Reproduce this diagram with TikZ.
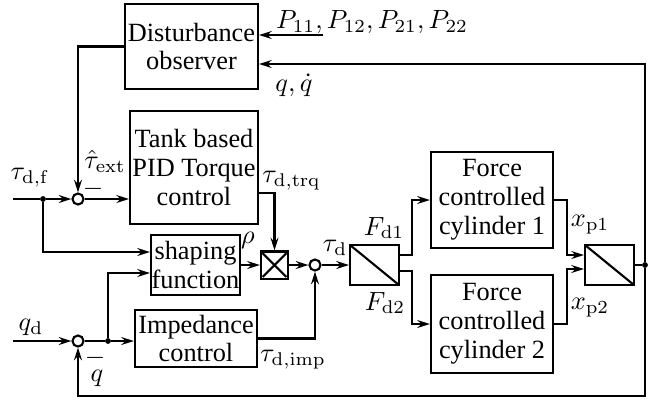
\documentclass[tikz,border=0pt]{standalone}
\usepackage[no-math]{fontspec}
\setmainfont{Liberation Serif}
\usetikzlibrary{arrows.meta,calc}

\tikzset{
  blk/.style={draw, thick, align=center, inner sep=0pt, font=\fontsize{10}{11}\selectfont},
  sumnode/.style={draw, thick, circle, fill=white, inner sep=0pt, minimum size=4.2pt},
  junc/.style={circle, fill, inner sep=0pt, minimum size=2.2pt},
  swbox/.style={draw, thick, inner sep=0pt, minimum width=18.6pt, minimum height=15.2pt,
    path picture={\draw[thick] (path picture bounding box.north west) -- (path picture bounding box.south east);}},
  sig/.style={thick, -{Stealth[length=4.8pt, width=3pt, inset=1.6pt]}},
  lin/.style={thick},
  lbl/.style={inner sep=0.5pt}
}

\begin{document}
\begin{tikzpicture}[x=0.38pt, y=-0.38pt]

  \useasboundingbox (0,0) rectangle (650,399);

  % Input and feedback points
  \coordinate (tfin) at (13,199);
  \coordinate (qdin) at (13,341);
  \coordinate (pin) at (323,35);
  \coordinate (fbb) at (645,396);

  % Blocks
  \node[blk, minimum width=50.5pt, minimum height=32.3pt] (obs) at (191.5,46.5) {Disturbance\\observer};
  \node[blk, minimum width=48.6pt, minimum height=42.9pt] (tank) at (194,167.5) {Tank based\\PID Torque\\control};
  \node[blk, minimum width=33.8pt, minimum height=22.8pt] (shape) at (195.5,265) {shaping\\function};
  \node[blk, minimum width=46.4pt, minimum height=21.7pt] (imp) at (196,338.5) {Impedance\\control};
  \node[blk, minimum width=46.4pt, minimum height=36.5pt] (cyl1) at (492,200) {Force\\controlled\\cylinder 1};
  \node[blk, minimum width=46.4pt, minimum height=37.2pt] (cyl2) at (492,324) {Force\\controlled\\cylinder 2};
  \node[draw, thick, minimum size=10.3pt, inner sep=0pt] (mult) at (274.5,265) {};
  \draw[thick] ([shift={(1pt,-1pt)}]mult.north west) -- ([shift={(-1pt,1pt)}]mult.south east);
  \draw[thick] ([shift={(1pt,1pt)}]mult.south west) -- ([shift={(-1pt,-1pt)}]mult.north east);
  \node[swbox] (demux) at (374.5,265) {};
  \node[swbox] (mux) at (609.5,265) {};

  % Sums and junctions
  \node[sumnode] (sum1) at (78,199) {};
  \node[sumnode] (sum2) at (315,265) {};
  \node[sumnode] (sum3) at (78,341) {};
  \node[junc] (d1) at (43,199) {};
  \node[junc] (d2) at (108,341) {};
  \node[junc] (d3) at (645,265) {};

  % Signals
  \draw[lin] (tfin) -- (d1);
  \draw[sig] (d1) -- (sum1);
  \draw[sig] (sum1) -- (sum1 -| tank.west);
  \draw[sig] (obs.west) -| (sum1);
  \draw[sig] (d1) |- ($(shape.west)+(0,-13)$);
  \draw[sig] (d2) |- ($(shape.west)+(0,8)$);
  \draw[sig] (shape) -- (mult);
  \draw[sig] ($(tank.east)+(0,25.5)$) -| (mult.north);
  \draw[sig] (mult) -- (sum2);
  \draw[sig] (qdin) -- (sum3);
  \draw[lin] (sum3) -- (d2);
  \draw[sig] (d2) -- (d2 -| imp.west);
  \draw[sig] (imp.east) -| (sum2);
  \draw[sig] (sum2) -- (demux);
  \draw[sig] ($(demux.east)+(0,-10)$) -- ++(12,0) |- (cyl1.west);
  \draw[sig] ($(demux.east)+(0,6)$) -- ++(12,0) |- (cyl2.west);
  \draw[sig] (cyl1.east) -- ++(13,0) |- ($(mux.west)+(0,-10)$);
  \draw[sig] (cyl2.east) -- ++(13,0) |- ($(mux.west)+(0,4)$);
  \draw[lin] (mux) -- (d3);
  \draw[sig] (d3) |- ($(obs.east)+(0,17.5)$);
  \draw[sig] (d3) -- (fbb) -| (sum3);
  \draw[sig] (pin) -- (pin -| obs.east);

  % Labels
  \node[lbl] (lp) at (372,22) {$P_{11},P_{12},P_{21},P_{22}$};
  \node[lbl] (lq) at (294,85) {$q,\dot{q}$};
  \node[lbl] (ltf) at (30,178) {$\tau_{\mathrm{d,f}}$};
  \node[lbl] (lext) at (105,161) {$\hat{\tau}_{\mathrm{ext}}$};
  \node[lbl] (lm1) at (93,189) {$-$};
  \node[lbl] (ltrq) at (291.5,181) {$\tau_{\mathrm{d,trq}}$};
  \node[lbl] (lrho) at (248,240) {$\rho$};
  \node[lbl] (ltd) at (335,248) {$\tau_{\mathrm{d}}$};
  \node[lbl] (lf1) at (384,228) {$F_{\mathrm{d1}}$};
  \node[lbl] (lf2) at (385,303) {$F_{\mathrm{d2}}$};
  \node[lbl] (lx1) at (590,225) {$x_{\mathrm{p1}}$};
  \node[lbl] (lx2) at (590,308) {$x_{\mathrm{p2}}$};
  \node[lbl] (lqd) at (31,327) {$q_{\mathrm{d}}$};
  \node[lbl] (lm3) at (95,358) {$-$};
  \node[lbl] (lqq) at (97,378) {$q$};
  \node[lbl] (limp) at (293,360) {$\tau_{\mathrm{d,imp}}$};

\end{tikzpicture}
\end{document}
